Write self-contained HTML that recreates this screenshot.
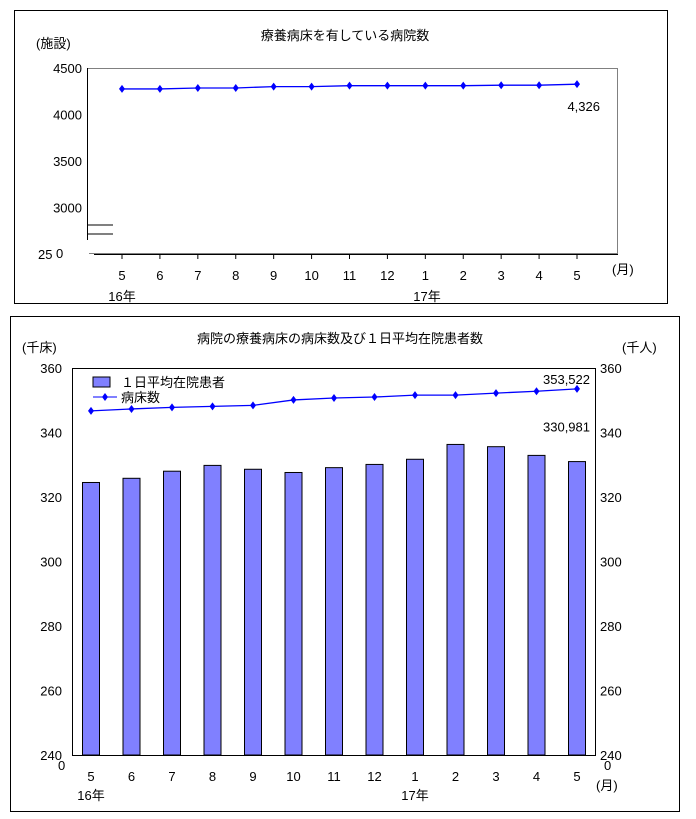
<!DOCTYPE html>
<html><head><meta charset="utf-8">
<style>
body{margin:0;background:#fff;width:696px;height:814px;overflow:hidden;font-family:"Liberation Sans","Noto Sans CJK JP",sans-serif;}
svg text{font-family:"Liberation Sans","Noto Sans CJK JP",sans-serif;font-size:13px;fill:#000}
</style></head><body>
<svg id="s" width="696" height="814">
<rect x="14.5" y="10.5" width="653" height="293" fill="#fff" stroke="#000"/>
<text x="345" y="40" text-anchor="middle" font-size="14">療養病床を有している病院数</text>
<text x="36" y="48">(施設)</text>
<rect x="87.5" y="68.5" width="530" height="185" fill="#fff" stroke="#808080"/>
<rect x="80" y="238" width="9" height="17" fill="#fff"/>
<line x1="87" y1="225" x2="113" y2="225" stroke="#000"/>
<line x1="87" y1="234" x2="113" y2="234" stroke="#000"/>
<line x1="87.5" y1="68" x2="87.5" y2="240" stroke="#000"/>
<line x1="94" y1="254.5" x2="618" y2="254.5" stroke="#000"/>
<text x="38" y="259">25</text>
<text x="56" y="258">0</text>
<text x="612" y="274">(月)</text>
<text x="122" y="301" text-anchor="middle">16年</text>
<text x="427" y="301" text-anchor="middle">17年</text>
<g id="topg"></g>
<rect x="10.5" y="316.5" width="669" height="495" fill="#fff" stroke="#000"/>
<text x="340" y="343" text-anchor="middle" font-size="14">病院の療養病床の病床数及び１日平均在院患者数</text>
<text x="22" y="352">(千床)</text>
<text x="622" y="352">(千人)</text>
<rect x="72.5" y="368.5" width="523" height="387" fill="#fff" stroke="#000"/>
<g id="botg"></g>
<rect x="93" y="377" width="17" height="10" fill="#8080ff" stroke="#000"/>
<text x="121" y="387">１日平均在院患者</text>
<line x1="93" y1="397" x2="117" y2="397" stroke="#0000ff"/>
<path d="M105 393l3 4-3 4-3-4z" fill="#0000ff"/>
<text x="121" y="402">病床数</text>
<text x="58" y="770">0</text>
<text x="604" y="770">0</text>
<text x="596" y="790">(月)</text>
<text x="91" y="800" text-anchor="middle">16年</text>
<text x="415" y="800" text-anchor="middle">17年</text>
</svg>
<script>
const months=["5","6","7","8","9","10","11","12","1","2","3","4","5"];
const hospitals=[4275,4275,4285,4285,4300,4300,4310,4310,4310,4310,4315,4315,4326];
const topTicks=[3000,3500,4000,4500];
const patients=[324.5,325.8,328.0,329.8,328.6,327.6,329.1,330.1,331.7,336.3,335.6,332.9,330.981];
const beds=[346.7,347.3,347.8,348.1,348.4,350.1,350.7,351.0,351.6,351.6,352.2,352.8,353.522];
const botTicks=[240,260,280,300,320,340,360];
const NS="http://www.w3.org/2000/svg";
function mk(p,t,a){const e=document.createElementNS(NS,t);for(const k in a)e.setAttribute(k,a[k]);p.appendChild(e);return e;}
const gTop=document.getElementById('topg'),gBot=document.getElementById('botg');
const tx=i=>122+i*(577-122)/12, ty=v=>254-(v-2500)*186/2000;
topTicks.forEach(v=>{const t=mk(gTop,'text',{x:82,y:ty(v)+5,'text-anchor':'end'});t.textContent=v;

});
months.forEach((m,i)=>{const l=mk(gTop,'line',{x1:tx(i),y1:254,x2:tx(i),y2:259,stroke:'#000'});


const t=mk(gTop,'text',{x:tx(i),y:280,'text-anchor':'middle'});t.textContent=m;

});
const tl=mk(gTop,'polyline',{points:hospitals.map((v,i)=>tx(i)+','+ty(v)).join(' '),fill:'none',stroke:'#0000ff','stroke-width':1.3});


hospitals.forEach((v,i)=>{const p=mk(gTop,'path',{d:`M${tx(i)} ${ty(v)-4}l3 4-3 4-3-4z`,fill:'#0000ff'});

});
const tv=mk(gTop,'text',{x:600,y:ty(hospitals[12])+27,'text-anchor':'end','font-family':'Liberation Mono'});tv.textContent=hospitals[12].toLocaleString('en-US');


const bx=i=>91+i*(577-91)/12, by=v=>755-(v-240)*387/120;
botTicks.forEach(v=>{const t=mk(gBot,'text',{x:62,y:by(v)+5,'text-anchor':'end'});t.textContent=v;


const r=mk(gBot,'text',{x:600,y:by(v)+5});r.textContent=v;

});
months.forEach((m,i)=>{const t=mk(gBot,'text',{x:bx(i),y:781,'text-anchor':'middle'});t.textContent=m;

});
patients.forEach((v,i)=>{const r=mk(gBot,'rect',{x:bx(i)-8.5,y:by(v),width:17,height:755-by(v),fill:'#8080ff',stroke:'#000'});

});
const bl=mk(gBot,'polyline',{points:beds.map((v,i)=>bx(i)+','+by(v)).join(' '),fill:'none',stroke:'#0000ff','stroke-width':1.3});


beds.forEach((v,i)=>{const p=mk(gBot,'path',{d:`M${bx(i)} ${by(v)-4}l3 4-3 4-3-4z`,fill:'#0000ff'});

});
const v1=mk(gBot,'text',{x:590,y:by(beds[12])-5,'text-anchor':'end','font-family':'Liberation Mono'});v1.textContent=Math.round(beds[12]*1000).toLocaleString('en-US');


const v2=mk(gBot,'text',{x:590,y:by(patients[12])-30,'text-anchor':'end','font-family':'Liberation Mono'});v2.textContent=Math.round(patients[12]*1000).toLocaleString('en-US');


</script>
</body></html>
